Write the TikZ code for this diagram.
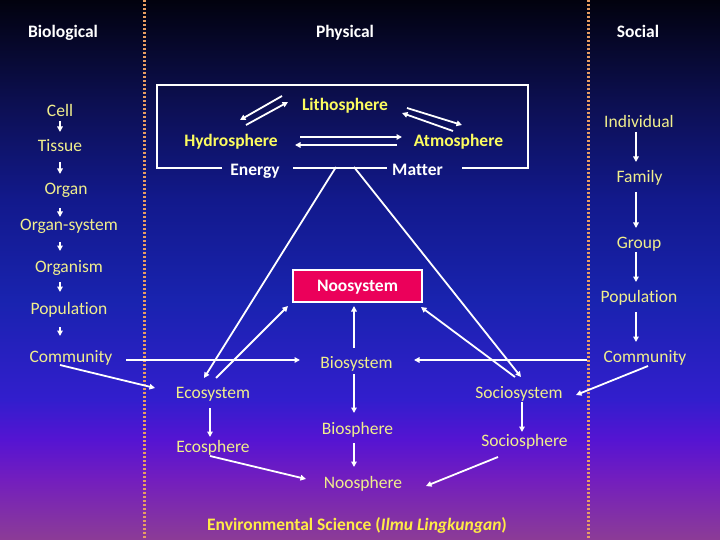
\documentclass[tikz,border=0pt]{standalone}
\usepackage{fontspec}
\setmainfont{Carlito}[RawFeature={-liga}]
\usetikzlibrary{arrows.meta}
\definecolor{bgA}{RGB}{2,2,14}
\definecolor{bgB}{RGB}{12,15,80}
\definecolor{bgC}{RGB}{18,25,140}
\definecolor{bgD}{RGB}{25,35,175}
\definecolor{bgE}{RGB}{50,30,205}
\definecolor{bgF}{RGB}{85,20,210}
\definecolor{bgG}{RGB}{115,30,190}
\definecolor{bgH}{RGB}{140,60,150}
\definecolor{ylight}{RGB}{240,238,140}
\definecolor{ybold}{RGB}{252,252,95}
\definecolor{ybot}{RGB}{255,235,70}
\definecolor{dotc}{RGB}{232,158,98}
\definecolor{noofill}{RGB}{235,0,90}
\pgfdeclareverticalshading{bgshade}{100bp}{color(0bp)=(bgH); color(25bp)=(bgH); color(30.6bp)=(bgG); color(34.3bp)=(bgF); color(38bp)=(bgE); color(47.2bp)=(bgD); color(56.5bp)=(bgC); color(65.7bp)=(bgB); color(75bp)=(bgA); color(100bp)=(bgA)}
\begin{document}
\begin{tikzpicture}[x=1pt,y=-1pt,
  font=\fontsize{17.5}{20}\selectfont,
  lbl/.style={inner sep=0pt, text height=11.3pt, text depth=0pt, text=ylight},
  blbl/.style={lbl, font=\fontsize{17.5}{20}\selectfont\bfseries, text=ybold},
  head/.style={blbl, text=white},
  arr/.style={draw=white, line width=1.8pt, -{Triangle[length=5.5pt,width=5.5pt]}},
  boxline/.style={draw=white, line width=1.4pt},
  dotline/.style={draw=dotc, line width=3pt, dash pattern=on 2.2pt off 1.8pt},
  noobox/.style={inner sep=0pt, minimum width=129pt, minimum height=32pt, fill=noofill, draw=white, line width=2pt, text=white, text height=11.3pt, text depth=0pt, font=\fontsize{17.5}{20}\selectfont\bfseries}
]
\useasboundingbox (0,0) rectangle (720,540);
\shade[shading=bgshade] (0,0) rectangle (720,540);
% dotted separators
\draw[dotline] (144.3,0) -- (144.3,540);
\draw[dotline] (588.3,0) -- (588.3,540);

% headings
\node[head] (biol) at (63,32) {Biological};
\node[head] (phys) at (345,32) {Physical};
\node[head] (soc) at (638,32) {Social};

% biological column
\node[lbl] (cell) at (60,110.5) {Cell};
\node[lbl] (tissue) at (60,146) {Tissue};
\node[lbl] (organ) at (66,189) {Organ};
\node[lbl] (orgsys) at (69,225) {Organ-system};
\node[lbl] (organism) at (69,267) {Organism};
\node[lbl] (popl) at (69,308.5) {Population};
\node[lbl] (comml) at (71,357) {Community};

% social column
\node[lbl] (indiv) at (639,122) {Individual};
\node[lbl] (family) at (639.5,176.5) {Family};
\node[lbl] (group) at (639,243) {Group};
\node[lbl] (popr) at (639,296.5) {Population};
\node[lbl] (commr) at (645,357) {Community};

% physical
\node[blbl] (lith) at (345,104.5) {Lithosphere};
\node[blbl] (hyd) at (231,141) {Hydrosphere};
\node[blbl] (atm) at (458.5,141) {Atmosphere};
\node[head] (energy) at (255,170) {Energy};
\node[head] (matter) at (417.5,170) {Matter};

% box
\draw[boxline] (222,168) -- (157,168) -- (157,85) -- (528,85) -- (528,168) -- (462,168);
\draw[boxline] (293,168) -- (387,168);
\coordinate (apexL) at (336,167);
\coordinate (apexR) at (354,167);

% centre
\node[noobox] (noosys) at (357.5,286) {Noosystem};
\node[lbl] (biosys) at (356.5,362.5) {Biosystem};
\node[lbl] (eco) at (213,392.5) {Ecosystem};
\node[lbl] (socsys) at (519,392.5) {Sociosystem};
\node[lbl] (ecosph) at (213,446.5) {Ecosphere};
\node[lbl] (biosph) at (357.5,429) {Biosphere};
\node[lbl] (socsph) at (524.5,441) {Sociosphere};
\node[lbl] (noosph) at (363,482.5) {Noosphere};
\node[blbl, text=ybot] (env) at (357,525) {Environmental Science (\textit{Ilmu Lingkungan})};

% biological arrows
\draw[arr] ([shift={(0,10.5)}]cell.center) -- ([shift={(0,-14)}]tissue.center);
\draw[arr] ([shift={(0,16)}]tissue.center) -- ([shift={(-6,-15)}]organ.center);
\draw[arr] ([shift={(-6,19)}]organ.center) -- ([shift={(-9,-8)}]orgsys.center);
\draw[arr] ([shift={(-9,17)}]orgsys.center) -- ([shift={(-9,-16)}]organism.center);
\draw[arr] ([shift={(-9,15)}]organism.center) -- ([shift={(-9,-16.5)}]popl.center);
\draw[arr] ([shift={(-9,18.5)}]popl.center) -- ([shift={(-11,-21)}]comml.center);

% social arrows
\draw[arr] ([shift={(-3,10)}]indiv.center) -- ([shift={(-3.5,-14.5)}]family.center);
\draw[arr] ([shift={(-3.5,15.5)}]family.center) -- ([shift={(-3,-15)}]group.center);
\draw[arr] ([shift={(-3,9)}]group.center) -- ([shift={(-3,-14.5)}]popr.center);
\draw[arr] ([shift={(-3,15.5)}]popr.center) -- ([shift={(-9,-15)}]commr.center);

% physical arrows
\draw[arr] ([shift={(-63,-8.5)}]lith.center) -- ([shift={(9,-21)}]hyd.center);
\draw[arr] ([shift={(15,-16)}]hyd.center) -- ([shift={(-57,-2.5)}]lith.center);
\draw[arr] ([shift={(62,3.5)}]lith.center) -- ([shift={(3.5,-16)}]atm.center);
\draw[arr] ([shift={(-5.5,-10)}]atm.center) -- ([shift={(57,8.5)}]lith.center);
\draw[arr] ([shift={(69,-4)}]hyd.center) -- ([shift={(-56.5,-4)}]atm.center);
\draw[arr] ([shift={(-61.5,4)}]atm.center) -- ([shift={(64,4)}]hyd.center);

% triangle
\draw[arr] (apexL) -- ([shift={(-9,-14.5)}]eco.center);
\draw[arr] (apexR) -- ([shift={(2,-15.5)}]socsys.center);

% into noosystem
\draw[arr] ([shift={(3,-14.5)}]eco.center) -- ([shift={(-69.5,20)}]noosys.center);
\draw[arr] ([shift={(-4,-15.5)}]socsys.center) -- ([shift={(63.5,21)}]noosys.center);
\draw[arr] ([shift={(-2.5,-14.5)}]biosys.center) -- ([shift={(-3.5,20)}]noosys.center);

% communities
\draw[arr] ([shift={(55,3)}]comml.center) -- ([shift={(-56.5,-2.5)}]biosys.center);
\draw[arr] ([shift={(-58,3)}]commr.center) -- ([shift={(57.5,-2.5)}]biosys.center);
\draw[arr] ([shift={(-11,8)}]comml.center) -- ([shift={(-58,-4.5)}]eco.center);
\draw[arr] ([shift={(3,9)}]commr.center) -- ([shift={(57,2.5)}]socsys.center);

% spheres
\draw[arr] ([shift={(-3,15.5)}]eco.center) -- ([shift={(-3,-9.5)}]ecosph.center);
\draw[arr] ([shift={(-2.5,11.5)}]biosys.center) -- ([shift={(-3.5,-16)}]biosph.center);
\draw[arr] ([shift={(3,9.5)}]socsys.center) -- ([shift={(-2.5,-9)}]socsph.center);
\draw[arr] ([shift={(-3.5,14)}]biosph.center) -- ([shift={(-9,-15.5)}]noosph.center);
\draw[arr] ([shift={(-3,9.5)}]ecosph.center) -- ([shift={(-57,-3.5)}]noosph.center);
\draw[arr] ([shift={(-26.5,16)}]socsph.center) -- ([shift={(63,3.5)}]noosph.center);
\end{tikzpicture}
\end{document}
